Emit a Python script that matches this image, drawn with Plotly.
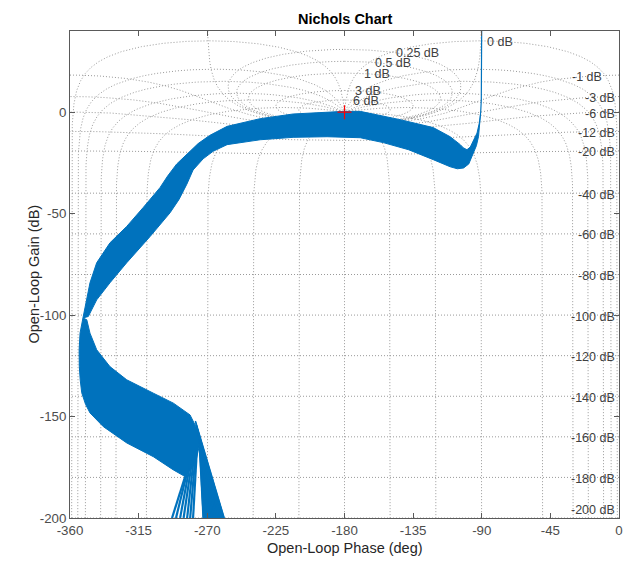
import numpy as np
import plotly.graph_objects as go

# ---------------- data ----------------
# open-loop phase (deg) / open-loop gain (dB)

# common high-gain stem: all responses coincide near -90 deg
stem_phase = [-90.0, -90.0, -90.1, -90.3, -90.7]
stem_gain = [46.0, 30.0, 15.0, 6.0, 0.0]

# outer (upper, then left) edge of the response family, stem -> pinch
upper_phase = [-90.7, -91.5, -93.1, -95.5, -97.5, -99.7, -102.0, -104.1, -110.7, -121.8,
               -143.5, -169.7, -180.2, -213.7, -235.3, -257.0, -268.5, -276.0, -283.0,
               -290.0, -296.0, -301.0, -312.0, -322.8, -333.8, -342.5, -346.9, -350.2, -351.5]
upper_gain = [0.0, -5.0, -10.3, -14.5, -17.2, -18.5, -17.6, -16.0, -12.1, -7.6,
              -3.7, 0.4, 0.4, -0.9, -3.2, -7.0, -11.5, -15.5, -20.5,
              -25.5, -31.5, -37.2, -47.0, -56.3, -64.4, -74.2, -84.1, -95.8, -101.4]

# inner (lower, then right) edge, stem -> pinch
lower_phase = [-90.7, -91.0, -92.1, -93.5, -95.4, -98.5, -101.9, -106.0, -110.7, -121.8,
               -138.0, -154.6, -169.7, -191.4, -213.7, -235.3, -257.0, -266.2, -272.7,
               -279.3, -283.4, -288.5, -294.4, -307.5, -322.8, -333.8, -342.5, -348.0, -351.5]
lower_gain = [0.0, -3.7, -11.9, -16.5, -20.1, -25.5, -27.5, -27.9, -26.9, -23.4,
              -18.5, -15.0, -12.6, -12.1, -12.4, -13.6, -16.0, -19.3, -23.0,
              -28.5, -35.5, -43.0, -49.6, -61.3, -74.2, -84.1, -92.5, -100.7, -101.4]

# section below the pinch (near -352 deg / -101 dB)
low_left_phase = [-351.5, -353.4, -354.0, -353.9, -353.3, -352.3, -349.8, -346.9, -338.1,
                  -322.8, -305.3, -292.2, -284.5]
low_left_gain = [-101.4, -108.8, -117.0, -125.4, -132.0, -138.3, -144.0, -148.2, -155.0,
                 -163.0, -169.8, -176.3, -179.6]
low_right_phase = [-351.5, -349.0, -346.9, -342.5, -333.8, -322.8, -305.3, -292.2, -281.3,
                   -275.8, -275.4, -277.3, -284.5]
low_right_gain = [-101.4, -102.3, -108.9, -117.1, -125.4, -131.9, -138.5, -143.4, -149.2,
                  -157.4, -165.0, -171.4, -179.6]

# steep high-frequency tails leaving the bottom of the chart
# left bundle
tailL_start_phase = [-284.5, -283.0, -281.3, -279.8, -278.6, -277.5, -276.7]
tailL_start_gain = [-179.6, -177.0, -173.7, -171.0, -168.9, -167.0, -165.0]
tailL_end_phase = [-293.1, -290.5, -287.8, -285.5, -283.2, -281.2, -279.3]
tailL_end_gain = [-200.0, -200.0, -200.0, -200.0, -200.0, -200.0, -200.0]
# right bundle
tailR_start_phase = [-275.5, -275.8, -276.2, -276.6, -277.0, -277.4, -277.8]
tailR_start_gain = [-160.0, -158.5, -157.0, -155.8, -154.6, -153.4, -152.2]
tailR_end_phase = [-272.7, -270.5, -268.1, -265.8, -263.5, -261.2, -258.9]
tailR_end_gain = [-200.0, -200.0, -200.0, -200.0, -200.0, -200.0, -200.0]

critical_phase = [-180.0]
critical_gain = [0.0]

phase_ticks = [-360, -315, -270, -225, -180, -135, -90, -45, 0]
phase_tick_text = ["-360", "-315", "-270", "-225", "-180", "-135", "-90", "-45", "0"]
gain_ticks = [-200, -150, -100, -50, 0]
gain_tick_text = ["-200", "-150", "-100", "-50", "0"]

# Nichols grid levels (closed-loop gain in dB, closed-loop phase in deg)
cl_gain_db = [6, 3, 1, 0.5, 0.25, 0, -1, -3, -6, -12, -20, -40, -60, -80, -100,
              -120, -140, -160, -180, -200]
cl_phase_deg = [-1, -5, -10, -20, -30, -50, -90, -120, -150, -180, -210, -240, -270,
                -310, -330, -340, -350, -355, -359]

pos_label_text = ["6 dB", "3 dB", "1 dB", "0.5 dB", "0.25 dB", "0 dB"]
neg_label_db = [-1, -3, -6, -12, -20, -40, -60, -80, -100, -120, -140, -160, -180, -200]

# ---------------- styling / layout constants ----------------
BLUE = "#0072BD"
GRID = "#9a9a9a"
FONT = "Liberation Sans, Arial, Helvetica, sans-serif"
W, H = 634, 566
ML, MR, MT, MB = 70, 15, 31, 48
PW, PH = W - ML - MR, H - MT - MB

pos_label_xy = [(-176.0, 5.7), (-174.5, 10.6), (-168.4, 18.8), (-161.2, 24.3),
                (-147.4, 29.2), (-87.7, 34.6)]


def m_contour(mdb):
    M = 10 ** (mdb / 20.0)
    u = np.linspace(0.0, 1.0, 3001)
    s = np.clip(0.5 * (1 - np.cos(np.pi * u)), 1e-7, 1 - 1e-7)
    T = M * np.exp(-2j * np.pi * s)
    G = T / (1 - T)
    ph = np.degrees(np.unwrap(np.angle(G)))
    if mdb > 0:
        ph -= 360 * np.round((ph.mean() + 180) / 360)
    elif mdb < 0:
        ph -= 360 * np.round(ph[0] / 360)
    else:
        ph -= 360 * np.round((ph[0] + 90) / 360)
    return ph, 20 * np.log10(np.abs(G))


def n_contour(pdeg):
    m = np.unique(np.concatenate([np.geomspace(1e-12, 1e7, 2500),
                                  np.linspace(0.8, 1.25, 2500)]))
    T = m * np.exp(1j * np.radians(pdeg))
    G = T / (1 - T)
    ph = np.degrees(np.unwrap(np.angle(G)))
    ph -= 360 * np.round((ph[0] - pdeg) / 360)
    return ph, 20 * np.log10(np.abs(G))


def segs(x0, y0, x1, y1):
    xs, ys = [], []
    for a, b, c, d in zip(x0, y0, x1, y1):
        xs += [a, c, None]
        ys += [b, d, None]
    return xs, ys


fig = go.Figure()

for g in cl_gain_db:
    x, y = m_contour(g)
    fig.add_trace(go.Scatter(x=x, y=y, mode="lines",
                             line=dict(color=GRID, width=1, dash="1px,2px"),
                             hoverinfo="skip", showlegend=False))
for p in cl_phase_deg:
    x, y = n_contour(p)
    fig.add_trace(go.Scatter(x=x, y=y, mode="lines",
                             line=dict(color=GRID, width=1, dash="1px,2px"),
                             hoverinfo="skip", showlegend=False))

# response family
fig.add_trace(go.Scatter(x=stem_phase, y=stem_gain, mode="lines",
                         line=dict(color=BLUE, width=1.2), hoverinfo="skip", showlegend=False))
fig.add_trace(go.Scatter(x=upper_phase + lower_phase[::-1], y=upper_gain + lower_gain[::-1],
                         mode="lines", fill="toself", fillcolor=BLUE,
                         line=dict(color=BLUE, width=1), hoverinfo="skip", showlegend=False))
fig.add_trace(go.Scatter(x=low_left_phase + low_right_phase[::-1],
                         y=low_left_gain + low_right_gain[::-1],
                         mode="lines", fill="toself", fillcolor=BLUE,
                         line=dict(color=BLUE, width=1), hoverinfo="skip", showlegend=False))

# right tail bundle: filled between its outermost lines, plus the lines
fig.add_trace(go.Scatter(
    x=[tailR_start_phase[0], tailR_end_phase[0], tailR_end_phase[-1], tailR_start_phase[-1]],
    y=[tailR_start_gain[0], tailR_end_gain[0], tailR_end_gain[-1], tailR_start_gain[-1]],
    mode="lines", fill="toself", fillcolor=BLUE, line=dict(color=BLUE, width=1),
    hoverinfo="skip", showlegend=False))
xs, ys = segs(tailR_start_phase, tailR_start_gain, tailR_end_phase, tailR_end_gain)
fig.add_trace(go.Scatter(x=xs, y=ys, mode="lines", line=dict(color=BLUE, width=1.5),
                         hoverinfo="skip", showlegend=False))
xs, ys = segs(tailL_start_phase, tailL_start_gain, tailL_end_phase, tailL_end_gain)
fig.add_trace(go.Scatter(x=xs, y=ys, mode="lines", line=dict(color=BLUE, width=2.2),
                         hoverinfo="skip", showlegend=False))

fig.add_trace(go.Scatter(x=critical_phase, y=critical_gain, mode="markers",
                         marker=dict(symbol="cross-thin", size=10,
                                     line=dict(color="#ff0000", width=1.2)),
                         hoverinfo="skip", showlegend=False))

ann = []
LBL = dict(family=FONT, size=12.5, color="#404040")
for txt, (px, py) in zip(pos_label_text, pos_label_xy):
    ann.append(dict(x=px, y=py, text=txt, showarrow=False, xanchor="left", yanchor="middle",
                    font=LBL))
for g in neg_label_db:
    M = 10 ** (g / 20.0)
    gy = max(20 * np.log10(M / (1 - M)) - 0.7, -196.0)
    gx = -10.0 if g == -1 else -1.0
    ann.append(dict(x=gx, y=gy, text=f"{g} dB", showarrow=False, xanchor="right",
                    yanchor="middle", font=LBL))

ann.append(dict(xref="paper", yref="paper", x=0.5, y=1 + 12 / PH, text="<b>Nichols Chart</b>",
                showarrow=False, xanchor="center", yanchor="middle",
                font=dict(family=FONT, size=14.5, color="#000000")))
ann.append(dict(xref="paper", yref="paper", x=0.5, y=-30 / PH, text="Open-Loop Phase (deg)",
                showarrow=False, xanchor="center", yanchor="middle",
                font=dict(family=FONT, size=14.5, color="#262626")))
ann.append(dict(xref="paper", yref="paper", x=-37 / PW, y=0.5, text="Open-Loop Gain (dB)",
                showarrow=False, xanchor="center", yanchor="middle", textangle=-90,
                font=dict(family=FONT, size=14.5, color="#262626")))

axis_common = dict(showgrid=False, zeroline=False, showline=True, linecolor="#5a5a5a",
                   linewidth=1, mirror="ticks", ticks="inside", ticklen=5,
                   tickcolor="#5a5a5a", tickfont=dict(family=FONT, size=13.3, color="#4d4d4d"))

fig.update_layout(
    width=W, height=H,
    margin=dict(l=ML, r=MR, t=MT, b=MB),
    plot_bgcolor="white", paper_bgcolor="white",
    xaxis=dict(range=[-360, 0], tickvals=phase_ticks, ticktext=phase_tick_text, **axis_common),
    yaxis=dict(range=[-200, 40], tickvals=gain_ticks, ticktext=gain_tick_text, **axis_common),
    annotations=ann,
    showlegend=False,
)

fig.write_html("out.html")
